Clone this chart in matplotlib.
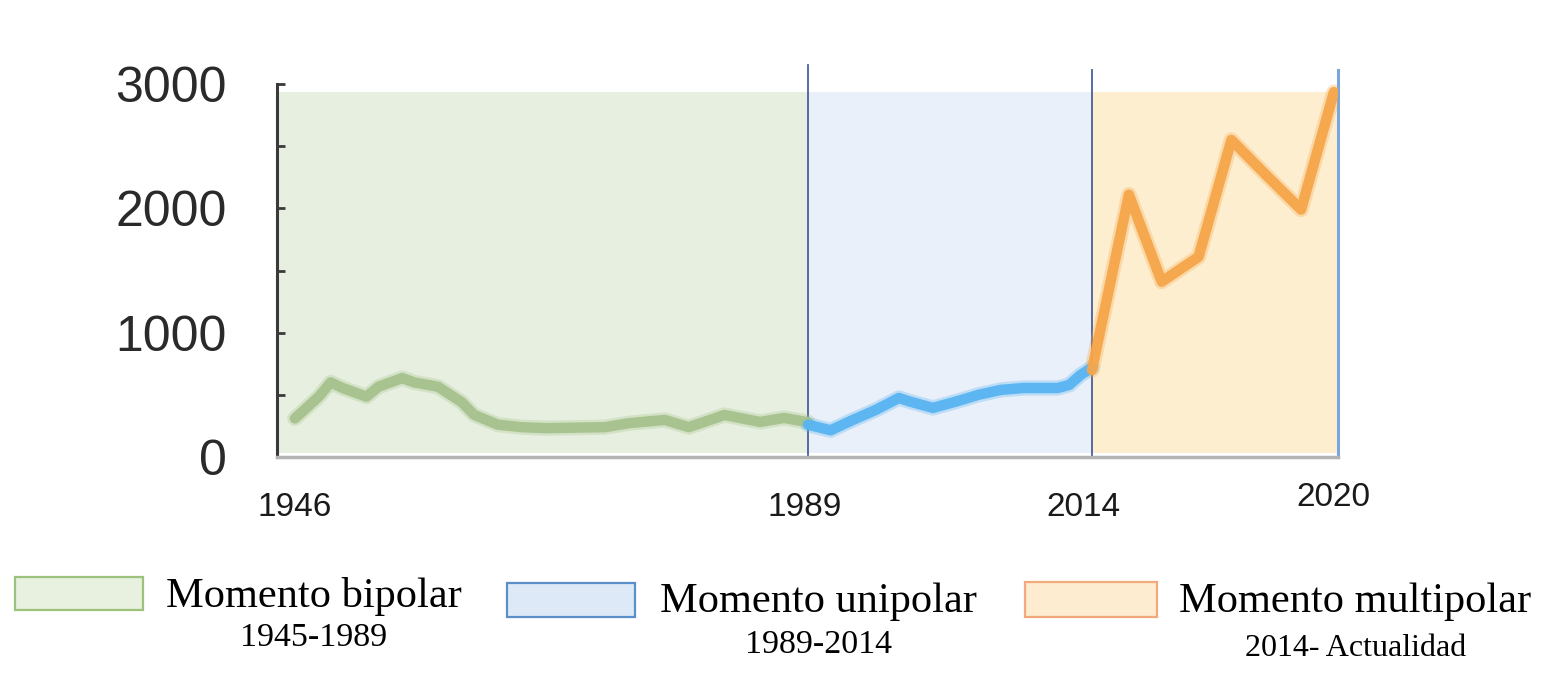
import numpy as np
import matplotlib
matplotlib.use('Agg')
import matplotlib.pyplot as plt
from matplotlib.patches import Rectangle

plt.rcParams['font.family'] = ['Liberation Sans', 'DejaVu Sans']

# --- datos ---
green_years = [1946, 1948, 1949, 1950, 1952, 1953, 1955, 1956, 1958, 1960, 1961, 1963,
               1965, 1967, 1972, 1974, 1977, 1979, 1980, 1982, 1985, 1987, 1989]
green_vals = [310, 485, 600, 555, 485, 565, 635, 600, 565, 440, 340, 260,
              240, 232, 240, 272, 298, 240, 272, 338, 282, 314, 280]

blue_years = [1989, 1991, 1993, 1995, 1997, 1998, 2000, 2002, 2004, 2006, 2008, 2011,
              2012, 2013, 2014]
blue_vals = [260, 215, 300, 380, 475, 445, 395, 445, 500, 540, 555, 555, 580, 660, 720]

orange_years = [2014.0, 2014.9, 2015.7, 2016.6, 2017.4, 2018.3, 2019.1, 2019.9]
orange_vals = [700, 2110, 1410, 1610, 2550, 2250, 1990, 2935]

y_ticks = [0, 1000, 2000, 3000]
y_minor = [500, 1500, 2500]
x_label_years = [1946, 1989, 2014, 2020]
x_labels = ['1946', '1989', '2014', '2020']

period_bounds = [1944.5, 1989, 2014, 2020]
period_names = ['Momento bipolar', 'Momento unipolar', 'Momento multipolar']
period_ranges = ['1945-1989', '1989-2014', '2014- Actualidad']

# escala por tramos (el último tramo está estirado en el original)
brk_years = [1900, 1946, 1989, 2014, 2020, 2100]
brk_pos = [-254, 295, 808, 1092, 1338, 4618]
fwd = lambda x: np.interp(x, brk_years, brk_pos)
inv = lambda p: np.interp(p, brk_pos, brk_years)

W, H = 1568, 682
fig = plt.figure(figsize=(W / 100, H / 100), dpi=100)
ax = fig.add_axes([277 / W, 1 - 457 / H, (1338 - 277) / W, 373 / H])
ax.set_xscale('function', functions=(fwd, inv))
ax.set_xlim(period_bounds[0], period_bounds[-1])
ax.set_ylim(0, 3000)

# fondos de cada periodo
fills = ['#e7f0e0', '#e9f0f9', '#fdeed0']
for i in range(3):
    ax.axvspan(period_bounds[i], period_bounds[i + 1], ymin=0.01, ymax=0.978,
               color=fills[i], lw=0, zorder=0)

# líneas verticales de separación
ax.axvline(1989, ymin=0, ymax=1.051, color='#4a5f9c', lw=1.3, clip_on=False)
ax.axvline(2014, ymin=0, ymax=1.038, color='#4a5f9c', lw=1.3, clip_on=False)
ax.axvline(2020, ymin=0, ymax=1.038, color='#7aa6dc', lw=2.2, clip_on=False)

# series (línea ancha difusa + línea principal)
for yrs, vals, c in [(green_years, green_vals, '#a6c28c'),
                     (blue_years, blue_vals, '#58b4f2'),
                     (orange_years, orange_vals, '#f6a64a')]:
    ax.plot(yrs, vals, color=c, lw=11, alpha=0.3, solid_capstyle='round',
            solid_joinstyle='round', zorder=2)
    ax.plot(yrs, vals, color=c, lw=7.5, alpha=0.95, solid_capstyle='round',
            solid_joinstyle='round', zorder=3)

# ejes
for s in ['top', 'right']:
    ax.spines[s].set_visible(False)
ax.spines['left'].set_color('#3a3a3a')
ax.spines['left'].set_linewidth(2.2)
ax.spines['bottom'].set_color('#b4b4b4')
ax.spines['bottom'].set_linewidth(2.5)

ax.set_yticks(y_ticks)
ax.set_yticklabels([str(v) for v in y_ticks])
ax.set_yticks(y_minor, minor=True)
ax.tick_params(axis='y', which='both', direction='in', length=6, width=2,
               color='#3a3a3a')
ax.tick_params(axis='y', which='major', labelsize=36, labelcolor='#2a2a2a', pad=36)
ax.set_xticks([])
ax.set_xticks([], minor=True)

# etiquetas del eje x
x_offsets = [(0, -51), (-3, -51), (-9, -51), (-5, -40)]
for yr, lab, (dx, dy) in zip(x_label_years, x_labels, x_offsets):
    ax.annotate(lab, xy=(yr, 0), xycoords=('data', 'axes fraction'),
                xytext=(dx, dy), textcoords='offset pixels',
                ha='center', va='center', fontsize=24, color='#1a1a1a',
                family=['Liberation Sans Narrow', 'Liberation Sans', 'DejaVu Sans'])

# leyenda inferior
def fx(x):
    return x / W

def fy(y):
    return 1 - y / H

legend_boxes = [(15, 577, 128, 33), (507, 583, 128, 34), (1025, 582, 132, 35)]
box_edges = ['#9cc27e', '#5a8fca', '#f2a97c']
box_faces = ['#e8f0e0', '#dde9f7', '#fdeccf']
name_pos = [(314, 597), (818, 602), (1355, 602)]
range_pos = [(314, 638), (819, 645), (1356, 648)]
range_sizes = [24.5, 24.5, 23]

for i in range(3):
    x0, y0, w, h = legend_boxes[i]
    fig.add_artist(Rectangle((fx(x0), fy(y0 + h)), w / W, h / H,
                             transform=fig.transFigure, facecolor=box_faces[i],
                             edgecolor=box_edges[i], lw=1.6))
    fig.text(fx(name_pos[i][0]), fy(name_pos[i][1]), period_names[i],
             ha='center', va='center', fontsize=30.5, family='Liberation Serif',
             color='black')
    fig.text(fx(range_pos[i][0]), fy(range_pos[i][1]), period_ranges[i],
             ha='center', va='center', fontsize=range_sizes[i],
             family='Liberation Serif', color='black')

fig.savefig('out.png', dpi=100)
